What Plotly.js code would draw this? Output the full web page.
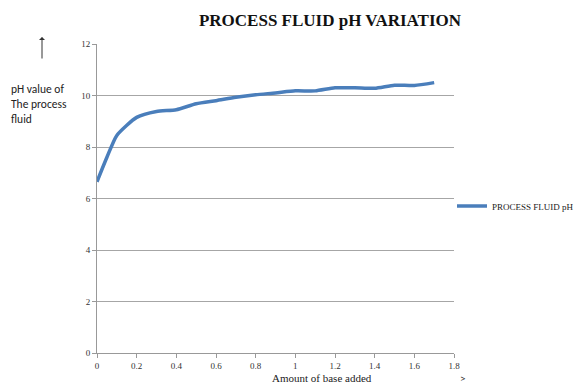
<!DOCTYPE html>
<html><head><meta charset="utf-8">
<script src="https://cdn.plot.ly/plotly-3.0.1.min.js"></script>
<style>html,body{margin:0;padding:0;background:#fff}#c{width:584px;height:385px}</style>
</head><body><div id="c"></div>
<script>
const baseAdded = [0, 0.05, 0.1, 0.2, 0.3, 0.4, 0.5, 0.6, 0.7, 0.8, 0.9, 1.0, 1.1, 1.2, 1.3, 1.4, 1.5, 1.6, 1.7];
const phValues = [6.65, 7.6, 8.45, 9.15, 9.38, 9.45, 9.68, 9.8, 9.93, 10.03, 10.1, 10.18, 10.18, 10.3, 10.3, 10.28, 10.4, 10.39, 10.5];
const seriesName = "PROCESS FLUID pH";
const xTicks = [0, 0.2, 0.4, 0.6, 0.8, 1, 1.2, 1.4, 1.6, 1.8];
const yTicks = [0, 2, 4, 6, 8, 10, 12];

const serif = "Liberation Serif, Times New Roman, serif";
const sans = "Carlito, Liberation Sans, Arial, sans-serif";
const W = 584, H = 385, L = 97, R = 130, T = 44, B = 32;
const pw = W - L - R, ph = H - T - B;
const px = v => (v - L) / pw;          // pixel -> paper x
const py = v => (H - B - v) / ph;      // pixel -> paper y

Plotly.newPlot("c", [{
  x: baseAdded, y: phValues, name: seriesName, type: "scatter", mode: "lines",
  line: {color: "#4a7ebb", width: 3.5, shape: "spline", smoothing: 0.6}
}], {
  width: W, height: H,
  margin: {l: L, r: R, t: T, b: B, autoexpand: false},
  paper_bgcolor: "#fff", plot_bgcolor: "#fff",
  showlegend: true,
  legend: {x: px(452), xanchor: "left", y: py(206), yanchor: "middle", font: {family: serif, size: 9, color: "#222"}, itemwidth: 30, bgcolor: "rgba(0,0,0,0)"},
  title: {text: "<b>PROCESS FLUID pH VARIATION</b>", font: {family: serif, size: 17, color: "#111"}, x: px(330), xanchor: "center", xref: "paper", y: (H - 20) / H, yanchor: "middle"},
  xaxis: {range: [0, 1.8], tickvals: xTicks, ticktext: xTicks.map(String), showgrid: false, zeroline: false,
    showline: true, linecolor: "#999", linewidth: 1, ticks: "outside", ticklen: 4, tickcolor: "#999",
    tickfont: {family: serif, size: 9, color: "#333"}, fixedrange: true},
  yaxis: {range: [0, 12], tickvals: yTicks, showgrid: true, gridcolor: "#a6a6a6", gridwidth: 1, zeroline: false,
    showline: true, linecolor: "#999", linewidth: 1, ticks: "outside", ticklen: 4, tickcolor: "#999",
    tickfont: {family: serif, size: 9, color: "#333"}, fixedrange: true},
  annotations: [
    {text: "pH value of<br>The process<br>fluid", xref: "paper", yref: "paper", x: px(9), xanchor: "left", y: py(80), yanchor: "top", align: "left", showarrow: false, font: {family: sans, size: 11.5, color: "#222"}},
    {text: "", xref: "paper", yref: "paper", x: px(42), y: py(37), showarrow: true, arrowhead: 1, arrowsize: 1, arrowwidth: 1, arrowcolor: "#333", ax: 0, ay: 23, standoff: 0},
    {text: "Amount of base added", xref: "paper", yref: "paper", x: px(322), xanchor: "center", y: py(370), yanchor: "top", showarrow: false, font: {family: serif, size: 11, color: "#222"}},
    {text: ">", xref: "paper", yref: "paper", x: px(462), xanchor: "center", y: py(370), yanchor: "top", showarrow: false, font: {family: sans, size: 11, color: "#333"}}
  ]
}, {staticPlot: true});
</script></body></html>
